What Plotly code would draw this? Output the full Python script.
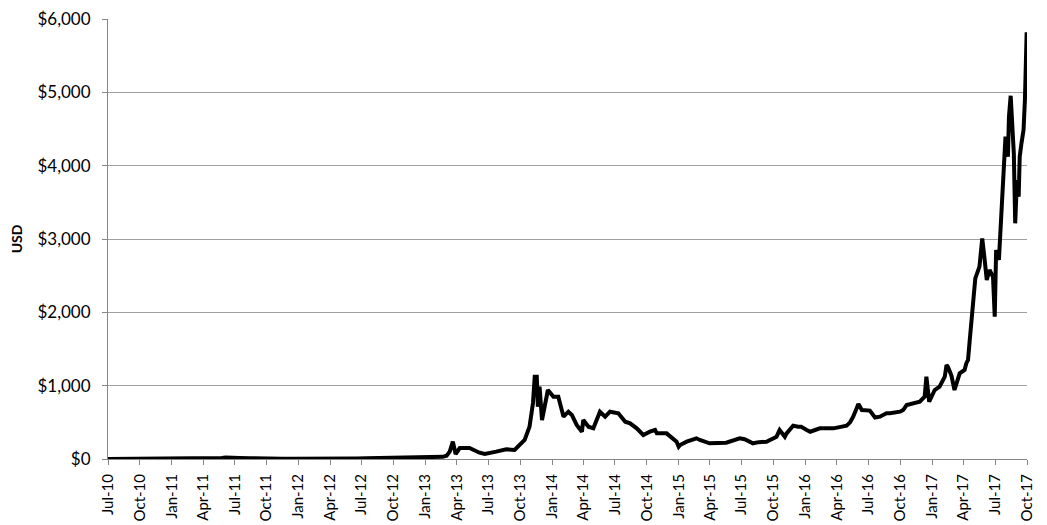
import plotly.graph_objects as go

# Bitcoin price in USD
dates = [
    "2010-07-01", "2010-08-01", "2010-09-01", "2010-10-01", "2010-11-01", "2010-12-01",
    "2011-01-01", "2011-02-01", "2011-03-01", "2011-04-01", "2011-05-01", "2011-05-15",
    "2011-05-25", "2011-06-05", "2011-06-20", "2011-07-15", "2011-08-15", "2011-09-15",
    "2011-10-15", "2011-11-15", "2011-12-15", "2012-01-15", "2012-02-15", "2012-03-15",
    "2012-04-15", "2012-05-15", "2012-06-15", "2012-07-15", "2012-08-15", "2012-09-15",
    "2012-10-15", "2012-11-15", "2012-12-15", "2013-01-15", "2013-02-01", "2013-02-20",
    "2013-03-03", "2013-03-12", "2013-03-21", "2013-03-29", "2013-04-10", "2013-05-08",
    "2013-06-06", "2013-06-21", "2013-07-24", "2013-08-22", "2013-09-15", "2013-09-30",
    "2013-10-14", "2013-10-28", "2013-11-07", "2013-11-12", "2013-11-18", "2013-11-21",
    "2013-11-26", "2013-12-03", "2013-12-11", "2013-12-20",
    "2014-01-05", "2014-01-19", "2014-02-03", "2014-02-17", "2014-02-27", "2014-03-13",
    "2014-03-28", "2014-04-01", "2014-04-16", "2014-04-30", "2014-05-19", "2014-06-03",
    "2014-06-17", "2014-07-11", "2014-07-31", "2014-08-14", "2014-09-02", "2014-09-21",
    "2014-10-10", "2014-10-25", "2014-10-30", "2014-11-27", "2014-12-26",
    "2015-01-01", "2015-01-05", "2015-01-24", "2015-02-21", "2015-03-03", "2015-03-31",
    "2015-04-29", "2015-05-18", "2015-06-26", "2015-07-10", "2015-08-03", "2015-08-20",
    "2015-09-11", "2015-09-30", "2015-10-10", "2015-10-19", "2015-11-03", "2015-11-08",
    "2015-11-27", "2015-12-11", "2015-12-20",
    "2016-01-05", "2016-01-15", "2016-02-12", "2016-03-22", "2016-04-29", "2016-05-09",
    "2016-05-18", "2016-06-02", "2016-06-12", "2016-07-05", "2016-07-20", "2016-08-03",
    "2016-08-22", "2016-09-01", "2016-09-30", "2016-10-09", "2016-10-19", "2016-11-26",
    "2016-12-10", "2016-12-15", "2016-12-23",
    "2017-01-08", "2017-01-22", "2017-02-06", "2017-02-11", "2017-02-15", "2017-02-25",
    "2017-03-06", "2017-03-21", "2017-04-04", "2017-04-09", "2017-04-14", "2017-04-19",
    "2017-04-23", "2017-04-28", "2017-05-05", "2017-05-17", "2017-05-25", "2017-06-01",
    "2017-06-07", "2017-06-15", "2017-06-25", "2017-06-30", "2017-07-04", "2017-07-12",
    "2017-07-19", "2017-07-26", "2017-07-31", "2017-08-07", "2017-08-10", "2017-08-15",
    "2017-08-18", "2017-08-24", "2017-08-28", "2017-09-02", "2017-09-07", "2017-09-10",
    "2017-09-15", "2017-09-21", "2017-09-25", "2017-09-27", "2017-09-30",
]
prices = [
    0.05, 0.07, 0.06, 0.06, 0.2, 0.25,
    0.3, 0.9, 0.9, 0.8, 3.5, 7,
    14, 22, 16, 14, 11, 5,
    3, 2.5, 3.2, 6, 5, 5,
    5, 5, 6.5, 9, 11, 11,
    12, 11, 13, 16, 20, 30,
    45, 100, 236, 68, 150, 150,
    86, 68, 100, 132, 123, 190,
    260, 440, 764, 1122, 1122, 713,
    986, 532, 713, 941,
    850, 850, 577, 645, 600, 464,
    372, 532, 440, 418, 645, 577,
    645, 623, 509, 486, 418, 327,
    372, 395, 350, 350, 236,
    168, 191, 236, 282, 259, 214,
    214, 223, 282, 270, 214, 230,
    236, 282, 304, 395, 304, 350,
    455, 440, 440,
    395, 372, 418, 418, 455, 500,
    577, 750, 668, 660, 565, 577,
    623, 623, 645, 668, 736, 782,
    850, 1122, 782,
    941, 986, 1122, 1282, 1259, 1140,
    941, 1168, 1214, 1304, 1350, 1623,
    1805, 2032, 2464, 2623, 3009, 2714,
    2441, 2577, 2486, 1941, 2850, 2714,
    3396, 3986, 4395, 4123, 4668, 4954,
    4623, 4168, 3214, 3805, 3577, 4123,
    4305, 4486, 4895, 5168, 5820,
]

y_title = "USD"
font_family = "Lato, 'Open Sans', sans-serif"

fig = go.Figure()
fig.add_trace(go.Scatter(
    x=dates, y=prices, mode="lines",
    line=dict(color="#000000", width=4),
    hoverinfo="x+y", showlegend=False,
))

fig.update_layout(
    width=1047, height=525,
    margin=dict(l=100, r=28, t=11, b=74, autoexpand=False),
    paper_bgcolor="white", plot_bgcolor="white",
    font=dict(family=font_family, size=15, color="#000000"),
)
fig.update_xaxes(
    type="date",
    range=["2010-07-01", "2017-10-01"],
    tick0="2010-07-01", dtick="M3",
    tickformat="%b-%y", tickangle=-90,
    ticks="outside", ticklen=5, tickcolor="#868686",
    showline=True, linecolor="#868686", linewidth=1,
    showgrid=False, zeroline=False,
    ticklabelstandoff=3,
    automargin=False,
    tickfont=dict(size=15),
)
fig.update_yaxes(
    range=[0, 6000.5], tick0=0, dtick=1000,
    tickprefix="$", tickformat=",",
    ticks="outside", ticklen=5, tickcolor="#868686",
    showline=True, linecolor="#868686", linewidth=1,
    showgrid=True, gridcolor="#A0A0A0", gridwidth=1,
    zeroline=False,
    ticklabeloverflow="allow",
    ticklabelstandoff=8,
    automargin=False,
    title=dict(text="<b>" + y_title + "</b>", font=dict(size=14), standoff=12),
    tickfont=dict(size=17),
)

fig.write_html("out.html")
